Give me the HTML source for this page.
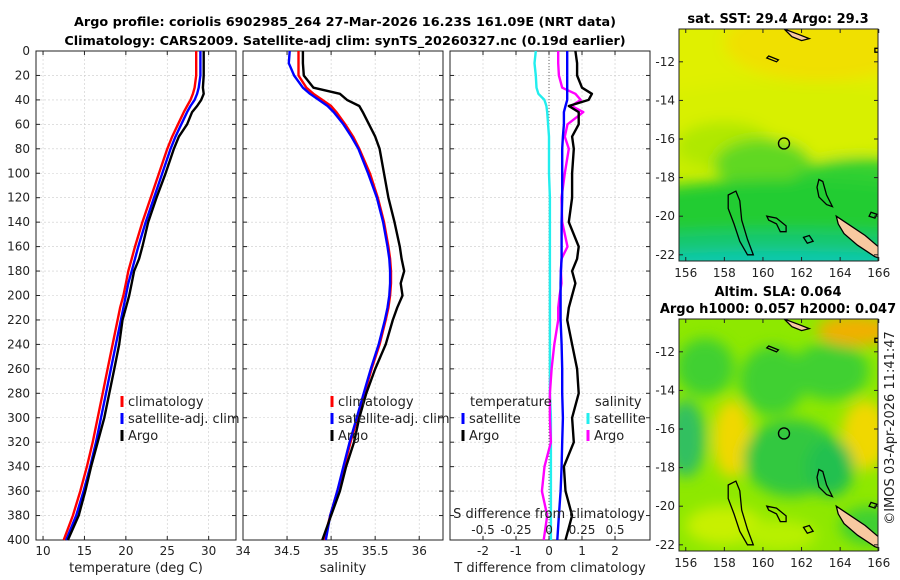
<!DOCTYPE html>
<html><head><meta charset="utf-8">
<style>
body{margin:0;background:#fff;}
svg{display:block;font-family:"DejaVu Sans","Liberation Sans",sans-serif;}
</style></head>
<body>
<svg id="fig" width="900" height="580" viewBox="0 0 900 580">
<defs>
<filter id="blur6" x="-50%" y="-50%" width="200%" height="200%"><feGaussianBlur stdDeviation="7"/></filter>
<clipPath id="clipM1"><rect x="679" y="29" width="199" height="232"/></clipPath>
<clipPath id="clipM2"><rect x="679" y="319" width="199" height="232"/></clipPath>
</defs>
<text x="345" y="26" text-anchor="middle" font-size="12.8" font-weight="bold">Argo profile: coriolis 6902985_264 27-Mar-2026 16.23S 161.09E (NRT data)</text>
<text x="345" y="45" text-anchor="middle" font-size="12.8" font-weight="bold">Climatology: CARS2009. Satellite-adj clim: synTS_20260327.nc (0.19d earlier)</text>
<g id="panels"></g>
<g id="maps"></g>
<text transform="translate(894,428) rotate(-90)" text-anchor="middle" font-size="13" fill="#222">©IMOS 03-Apr-2026 11:41:47</text>
</svg>
<script>
// ---- data ----
const depths = [0,10,20,30,35,40,45,50,60,70,80,100,120,140,160,170,180,190,200,210,220,240,260,280,300,320,340,360,380,400];
const tClim  = [28.5,28.5,28.5,28.3,28.1,27.8,27.4,27.0,26.3,25.6,25.0,24.0,23.0,22.0,21.1,20.7,20.3,20.0,19.7,19.3,19.0,18.4,17.8,17.2,16.6,16.0,15.3,14.5,13.6,12.5];
const tSat   = [29.0,29.0,29.0,28.8,28.6,28.3,27.8,27.4,26.7,26.0,25.4,24.4,23.4,22.4,21.5,21.1,20.7,20.3,20.0,19.7,19.4,18.8,18.2,17.6,17.0,16.4,15.7,14.9,14.0,12.8];
const tArgo  = [29.4,29.4,29.4,29.3,29.4,29.1,28.6,28.0,27.4,26.4,25.8,24.8,23.7,22.7,22.0,21.6,21.0,20.7,20.4,20.0,19.6,19.2,18.6,18.0,17.4,16.6,15.8,15.1,14.3,13.0];
const sClim  = [34.63,34.63,34.63,34.72,34.80,34.90,35.00,35.06,35.16,35.25,35.32,35.44,35.53,35.60,35.65,35.67,35.68,35.68,35.67,35.65,35.62,35.55,35.46,35.38,35.30,35.22,35.15,35.07,34.99,34.92];
const sSat   = [34.53,34.52,34.58,34.68,34.76,34.86,34.96,35.03,35.14,35.23,35.31,35.42,35.52,35.59,35.64,35.66,35.67,35.67,35.66,35.64,35.61,35.54,35.45,35.37,35.29,35.21,35.14,35.07,34.99,34.94];
const sArgo  = [34.68,34.68,34.69,34.80,35.10,35.18,35.32,35.36,35.43,35.50,35.55,35.60,35.65,35.72,35.78,35.80,35.83,35.79,35.81,35.75,35.70,35.62,35.50,35.40,35.32,35.26,35.17,35.10,35.00,34.90];
const dTSat  = [0.55,0.55,0.55,0.55,0.55,0.55,0.50,0.45,0.45,0.42,0.40,0.40,0.40,0.38,0.38,0.38,0.36,0.35,0.35,0.35,0.35,0.38,0.40,0.40,0.42,0.40,0.38,0.35,0.30,0.25];
const dTArgo = [0.80,0.85,0.85,1.00,1.30,1.20,0.60,0.90,0.90,0.70,0.75,0.70,0.70,0.60,0.90,0.85,0.70,0.80,0.70,0.60,0.55,0.70,0.85,0.90,0.70,0.75,0.45,0.50,0.70,0.50];
const dSSat  = [-0.10,-0.11,-0.10,-0.095,-0.08,-0.035,-0.02,-0.014,-0.007,0.0,0.0,0.0,0.007,0.007,0.007,0.007,0.007,0.007,0.007,0.007,0.007,0.007,0.007,0.007,0.014,0.014,0.014,0.014,0.014,0.014];
const dSArgo = [0.07,0.07,0.075,0.10,0.20,0.24,0.17,0.26,0.14,0.12,0.15,0.12,0.095,0.10,0.14,0.095,0.09,0.095,0.08,0.07,0.07,0.04,0.02,0.007,0.007,0.014,-0.034,-0.054,-0.014,-0.04];
const depthTicks = [0,20,40,60,80,100,120,140,160,180,200,220,240,260,280,300,320,340,360,380,400];
const tTicks = [10,15,20,25,30];
const sTicks = [34,34.5,35,35.5,36];
const dTTicks = [-2,-1,0,1,2];
const dSTicks = [-0.5,-0.25,0,0.25,0.5];
const lonTicks = [156,158,160,162,164,166];
const latTicks = [-12,-14,-16,-18,-20,-22];

const NS='http://www.w3.org/2000/svg';
function mk(tag, attrs, parent){const e=document.createElementNS(NS,tag);for(const k in attrs)e.setAttribute(k,attrs[k]);parent.appendChild(e);return e;}
const top0=51, bot0=540;
const yD = d => top0 + d/400*(bot0-top0);
const P = document.getElementById('panels');

function panel(x0, xmin, xmax, ticks, fmt, xlabel, name){
  const g = mk('g',{},P);
  
  
  const w=200, sx = v => x0 + (v-xmin)/(xmax-xmin)*w;
  depthTicks.forEach(d=>{ if(d>0&&d<400) mk('line',{x1:x0,x2:x0+w,y1:yD(d),y2:yD(d),stroke:'#ccc','stroke-width':0.6,'stroke-dasharray':'2,2'},g);});
  ticks.forEach(t=>{ mk('line',{x1:sx(t),x2:sx(t),y1:top0,y2:bot0,stroke:'#ccc','stroke-width':0.6,'stroke-dasharray':'2,2'},g);});
  mk('rect',{x:x0,y:top0,width:w,height:bot0-top0,fill:'none',stroke:'#222','stroke-width':1},g);
  ticks.forEach(t=>{
    mk('line',{x1:sx(t),x2:sx(t),y1:bot0,y2:bot0-4,stroke:'#222'},g);
    mk('line',{x1:sx(t),x2:sx(t),y1:top0,y2:top0+4,stroke:'#222'},g);
    const tx=mk('text',{x:sx(t),y:bot0+15,'text-anchor':'middle','font-size':12,fill:'#222'},g);
    tx.textContent=fmt(t);
    
    
  });
  depthTicks.forEach(d=>{
    mk('line',{x1:x0,x2:x0+4,y1:yD(d),y2:yD(d),stroke:'#222'},g);
    mk('line',{x1:x0+w,x2:x0+w-4,y1:yD(d),y2:yD(d),stroke:'#222'},g);
  });
  const xl=mk('text',{x:x0+w/2,y:bot0+32,'text-anchor':'middle','font-size':13,fill:'#222'},g);
  xl.textContent=xlabel;
  
  
  return {g,sx};
}
function line(g, sx, vals, color, name, wdt){
  const pts = vals.map((v,i)=>sx(v).toFixed(1)+','+yD(depths[i]).toFixed(1)).join(' ');
  const pl = mk('polyline',{points:pts,fill:'none',stroke:color,'stroke-width':wdt||2.4,'stroke-linejoin':'round'},g);
  
  
}
function legend(g, x, y, items){
  items.forEach((it,i)=>{
    const yy=y+i*17;
    if(it[1]) mk('line',{x1:x,x2:x,y1:yy-10,y2:yy+1,stroke:it[1],'stroke-width':3},g);
    const t=mk('text',{x:x+(it[1]?6:0),y:yy,'font-size':13,fill:'#222'},g);
    t.textContent=it[0];
    
    
  });
}
depthTicks.forEach(d=>{
  const t=mk('text',{x:30,y:yD(d)+4,'text-anchor':'end','font-size':12,fill:'#222'},P);
  t.textContent=d;
  
  
});
let p1 = panel(36, 9.15, 33.3, tTicks, v=>v, 'temperature (deg C)', 'temperature-panel');
line(p1.g,p1.sx,tClim,'#f00','temp-climatology-line');
line(p1.g,p1.sx,tSat,'#00f','temp-satellite-line');
line(p1.g,p1.sx,tArgo,'#000','temp-argo-line');
legend(p1.g,122,406,[['climatology','#f00'],['satellite-adj. clim','#00f'],['Argo','#000']]);
let p2 = panel(243, 34, 36.27, sTicks, v=>v, 'salinity', 'salinity-panel');
line(p2.g,p2.sx,sClim,'#f00','sal-climatology-line');
line(p2.g,p2.sx,sSat,'#00f','sal-satellite-line');
line(p2.g,p2.sx,sArgo,'#000','sal-argo-line');
legend(p2.g,332,406,[['climatology','#f00'],['satellite-adj. clim','#00f'],['Argo','#000']]);
let p3 = panel(450, -3.0, 3.06, dTTicks, v=>v, 'T difference from climatology', 'difference-panel');
mk('line',{x1:p3.sx(0),x2:p3.sx(0),y1:top0,y2:bot0,stroke:'#444','stroke-width':0.8,'stroke-dasharray':'1,2'},p3.g);
const sxS = v => p3.sx(0) + v*132;
line(p3.g,sxS,dSSat,'#2ee','sal-diff-satellite-line');
line(p3.g,sxS,dSArgo,'#f0f','sal-diff-argo-line');
line(p3.g,p3.sx,dTSat,'#00f','temp-diff-satellite-line');
line(p3.g,p3.sx,dTArgo,'#000','temp-diff-argo-line');
legend(p3.g,470,406,[['temperature',null]]);
legend(p3.g,463,423,[['satellite','#00f'],['Argo','#000']]);
legend(p3.g,595,406,[['salinity',null]]);
legend(p3.g,588,423,[['satellite','#2ee'],['Argo','#f0f']]);
let st=mk('text',{x:549,y:518,'text-anchor':'middle','font-size':13,fill:'#222'},p3.g);
st.textContent='S difference from climatology';


dSTicks.forEach(v=>{
  const t=mk('text',{x:sxS(v),y:534,'text-anchor':'middle','font-size':12,fill:'#222'},p3.g);
  t.textContent=v;
  
  
});

// ---- maps ----
const M = document.getElementById('maps');
function map(top, clipId, name, blobs, base, titles){
  const g=mk('g',{},M);
  
  
  const L=679,W=199,H=232;
  const lx = lon => L + (lon-155.65)*19.3;
  const ly = lat => top + (-10.3-lat)*19.3;
  const c=mk('g',{'clip-path':'url(#'+clipId+')'},g);
  mk('rect',{x:L,y:top,width:W,height:H,fill:base},c);
  const bg=mk('g',{filter:'url(#blur6)'},c);
  blobs.forEach(b=>mk('ellipse',{cx:lx(b[0]),cy:ly(b[1]),rx:b[2]*19.3,ry:b[3]*19.3,fill:b[4],opacity:b[5]||1},bg));
  const cg=mk('g',{fill:'none',stroke:'#000','stroke-width':1.3},c);
  const poly=(pts,fill)=>mk('polygon',{points:pts.map(p=>lx(p[0]).toFixed(1)+','+ly(p[1]).toFixed(1)).join(' '),fill:fill||'none'},cg);
  poly([[158.2,-18.9],[158.6,-18.7],[158.8,-19.2],[158.9,-20.2],[159.2,-21.2],[159.5,-22.0],[159.2,-22.0],[158.8,-21.3],[158.5,-20.4],[158.2,-19.6]]);
  poly([[160.2,-20.0],[160.7,-20.1],[161.2,-20.5],[161.2,-20.8],[160.9,-20.8],[160.7,-20.4],[160.3,-20.2]]);
  poly([[162.9,-18.1],[163.1,-18.2],[163.3,-18.9],[163.6,-19.5],[163.3,-19.4],[162.9,-19.0],[162.8,-18.5]]);
  poly([[162.1,-21.1],[162.4,-21.0],[162.6,-21.3],[162.3,-21.4]]);
  poly([[163.8,-20.0],[164.4,-20.4],[165.3,-21.0],[166.0,-21.6],[166.4,-21.9],[166.4,-22.3],[165.8,-22.1],[164.9,-21.5],[164.2,-20.9],[163.9,-20.4]],'#f8c9a0');
  poly([[161.1,-10.3],[161.9,-10.6],[162.4,-10.8],[162.0,-10.9],[161.5,-10.7]],'#f8c9a0');
  poly([[160.3,-11.7],[160.8,-11.9],[160.7,-12.0],[160.2,-11.8]]);
  poly([[165.6,-19.8],[165.9,-19.9],[165.8,-20.1],[165.5,-20.0]]);
  poly([[165.8,-11.3],[166.2,-11.3],[166.1,-11.5],[165.8,-11.5]]);
  mk('circle',{cx:lx(161.09),cy:ly(-16.23),r:5.5,fill:'none',stroke:'#000','stroke-width':1.4},c);
  mk('rect',{x:L,y:top,width:W,height:H,fill:'none',stroke:'#222'},g);
  lonTicks.forEach(v=>{
    mk('line',{x1:lx(v),x2:lx(v),y1:top+H,y2:top+H-4,stroke:'#222'},g);
    mk('line',{x1:lx(v),x2:lx(v),y1:top,y2:top+4,stroke:'#222'},g);
    const t=mk('text',{x:lx(v),y:top+H+16,'text-anchor':'middle','font-size':12,fill:'#222'},g);
    t.textContent=v;
    
    
  });
  latTicks.forEach(v=>{
    mk('line',{x1:L,x2:L+4,y1:ly(v),y2:ly(v),stroke:'#222'},g);
    mk('line',{x1:L+W,x2:L+W-4,y1:ly(v),y2:ly(v),stroke:'#222'},g);
    const t=mk('text',{x:L-4,y:ly(v)+4,'text-anchor':'end','font-size':12,fill:'#222'},g);
    t.textContent=v;
    
    
  });
  titles.forEach((tt,i)=>{
    const t=mk('text',{x:778,y:top-6-(titles.length-1-i)*17,'text-anchor':'middle','font-size':13,'font-weight':'bold'},g);
    t.textContent=tt;
    
    
  });
}
map(29,'clipM1','sst-map',[
  [161,-12,9,3.5,'#e0f000'],[163,-11,5,2,'#f0e000'],[161,-15,8,2,'#d8f000'],
  [158,-16.3,2.5,1.2,'#b0e800'],[160,-17.3,2.5,1.3,'#60d820'],
  [165,-18.3,3.5,1.3,'#30d030'],[161,-19.7,9,1.6,'#20cc30'],[161,-21.4,9,0.7,'#18c870'],[161,-22.4,9,0.6,'#10c8b0']
],'#c8ee00',['sat. SST: 29.4 Argo: 29.3']);
map(319,'clipM2','sla-map',[
  [157,-12.8,1.5,1.5,'#40d030'],[160.5,-13.5,1.7,1.8,'#40d030'],[163.5,-13,2,1.5,'#40d030'],
  [158.4,-16.5,1,2,'#f0d800'],[165.3,-16.3,1.2,1.8,'#f0d800'],[164.8,-10.9,2,0.8,'#f0b000'],
  [156,-16.5,1,2,'#30c060'],[161.5,-17.5,2.5,2,'#30c840'],[163.5,-18,1.2,1.5,'#20c050'],
  [158,-21,2,1,'#c8f000'],[160.8,-21.5,2,0.8,'#b8f000'],[165.5,-21,1.5,1,'#40d030']
],'#8ee800',['Altim. SLA: 0.064','Argo h1000: 0.057 h2000: 0.047']);
</script>
</body></html>
